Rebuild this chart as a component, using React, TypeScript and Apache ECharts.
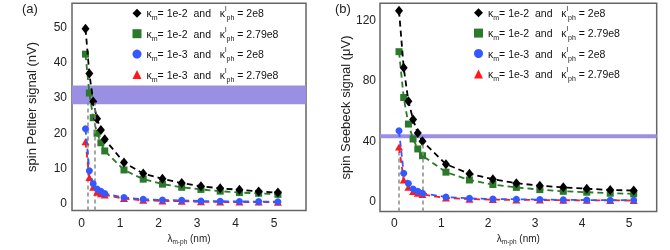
import React, { useEffect, useRef } from "react";
import * as echarts from "echarts";

const lambdaNm = [0.1, 0.2, 0.3, 0.4, 0.5, 0.6, 1.1, 1.6, 2.1, 2.6, 3.1, 3.6, 4.1, 4.6, 5.1];

// spin Peltier signal (nV)
const peltierKm2Ph2 = [49.4, 36.7, 28.8, 23.9, 20.7, 18.1, 11.5, 8.4, 6.9, 5.7, 4.8, 4.2, 3.8, 3.3, 3.0];
const peltierKm2Ph279 = [42.2, 31.2, 24.2, 19.8, 17.1, 14.8, 9.4, 6.8, 5.4, 4.5, 3.9, 3.4, 3.0, 2.8, 2.5];
const peltierKm3Ph2 = [21.1, 9.2, 5.5, 4.0, 3.4, 2.7, 1.6, 1.1, 0.9, 0.8, 0.6, 0.55, 0.5, 0.45, 0.4];
const peltierKm3Ph279 = [17.4, 7.3, 4.5, 3.1, 2.7, 2.3, 1.3, 0.8, 0.65, 0.55, 0.4, 0.35, 0.3, 0.3, 0.25];

// spin Seebeck signal (μV)
const seebeckKm2Ph2 = [126.2, 88.3, 66.2, 54, 45, 39.6, 24.4, 18, 14.4, 11.8, 10.1, 9, 8.1, 7.3, 6.9];
const seebeckKm2Ph279 = [99, 68.6, 51, 41.1, 34.5, 30, 19.1, 13.9, 10.9, 9, 7.5, 6.4, 5.8, 5.1, 4.7];
const seebeckKm3Ph2 = [46.5, 18.4, 11.6, 7.9, 6.4, 5.1, 2.6, 1.7, 1.3, 1.1, 0.9, 0.7, 0.6, 0.5, 0.45];
const seebeckKm3Ph279 = [35.8, 13.9, 9, 6.2, 5.1, 4.3, 1.9, 1.2, 0.9, 0.7, 0.6, 0.5, 0.4, 0.35, 0.3];

const xTicks = [0, 1, 2, 3, 4, 5];
const peltierTicks = [0, 10, 20, 30, 40, 50];
const seebeckTicks = [0, 40, 80, 120];

const peltierBand = [28, 33.3];
const seebeckBand = [41.6, 44.3];
const peltierGuides = [
  [0.16, 28.5],
  [0.34, 28.5],
];
const seebeckGuides = [
  [0.1, 34],
  [0.6, 39],
];

const seriesNames = ["k1", "k2", "k3", "k4"];
const kmLabels = ["1e-2", "1e-2", "1e-3", "1e-3"];
const kphLabels = ["2e8", "2.79e8", "2e8", "2.79e8"];
const colors = ["#000000", "#2a7a2a", "#3658ff", "#ff1a1a"];
const symbols = ["diamond", "rect", "circle", "triangle"];
const symbolSizes: any[] = [[8, 10], 7, 7, [8, 7]];

const FONT = "Liberation Sans, Arial, sans-serif";

export default function App() {
  const ref = useRef<HTMLDivElement>(null);
  useEffect(() => {
    if (!ref.current) return;
    const chart = echarts.init(ref.current, null, { renderer: "svg" });

    const rich = {
      t: { fontSize: 10.5, lineHeight: 16, fontFamily: FONT, color: "#111" },
      sub: { fontSize: 7, lineHeight: 8, verticalAlign: "bottom", fontFamily: FONT, color: "#111" },
      sup: { fontSize: 7, lineHeight: 8, verticalAlign: "top", fontFamily: FONT, color: "#111" },
    };
    const fmt = (name: string) => {
      const i = seriesNames.indexOf(name);
      return `{t|κ}{sub|m}{t|= ${kmLabels[i]}  and   κ}{sup|l}{sub|ph}{t| = ${kphLabels[i]}}`;
    };

    const legendFor = (left: number, top: number) => ({
      left,
      top,
      padding: 0,
      orient: "vertical",
      itemWidth: 9,
      itemHeight: 9,
      itemGap: 4.4,
      data: seriesNames.map((n, i) => ({ name: n, icon: symbols[i] })),
      formatter: fmt,
      textStyle: { rich },
      selectedMode: false,
    });

    const makeSeries = (gi: number, datasets: number[][], band: number[], guides: number[][], yMin: number) => {
      const order = [1, 0, 3, 2];
      return order.map((i, k) => {
        const s: any = {
          type: "line",
          name: seriesNames[i],
          xAxisIndex: gi,
          yAxisIndex: gi,
          data: lambdaNm.map((x, j) => [x, datasets[i][j]]),
          symbol: symbols[i],
          symbolSize: symbolSizes[i],
          showSymbol: true,
          itemStyle: { color: colors[i] },
          lineStyle: { color: colors[i], width: 1.8, type: [6, 4] },
          z: 3 + k,
        };
        if (k === 0) {
          s.markArea = {
            silent: true,
            itemStyle: { color: "#9b8fe4", opacity: 1 },
            data: [[{ yAxis: band[0] }, { yAxis: band[1] }]],
          };
          s.markLine = {
            silent: true,
            symbol: "none",
            label: { show: false },
            lineStyle: { color: "#8a8a8a", width: 1.5, type: [4, 3] },
            data: guides.map((g) => [{ coord: [g[0], yMin] }, { coord: [g[0], g[1]] }]),
          };
        }
        return s;
      });
    };

    const axisLabelStyle = { color: "#222", fontSize: 12, fontFamily: FONT };
    const xName = "{l|λ}{s|m-ph}{l| (nm)}";
    const xNameStyle = {
      rich: {
        l: { fontSize: 10, lineHeight: 13, fontFamily: FONT, color: "#222" },
        s: { fontSize: 6.5, lineHeight: 7, verticalAlign: "bottom", fontFamily: FONT, color: "#222" },
      },
    };

    const pYMin = -2.1;
    const sYMin = -7.07;

    chart.setOption({
      animation: false,
      textStyle: { fontFamily: FONT },
      grid: [
        { left: 72, top: 3.3, width: 234, height: 213.4, show: true, borderColor: "#666", borderWidth: 1.5, backgroundColor: "transparent" },
        { left: 380, top: 3.3, width: 276.7, height: 215, show: true, borderColor: "#666", borderWidth: 1.5, backgroundColor: "transparent" },
      ],
      xAxis: [
        {
          type: "value", gridIndex: 0, min: -0.251, max: 5.83,
          axisLine: { show: false }, axisTick: { show: false }, splitLine: { show: false },
          axisLabel: { ...axisLabelStyle, margin: 6, customValues: xTicks },
          name: xName, nameLocation: "middle", nameGap: 15, nameTextStyle: xNameStyle,
        },
        {
          type: "value", gridIndex: 1, min: -0.305, max: 5.59,
          axisLine: { show: false }, axisTick: { show: false }, splitLine: { show: false },
          axisLabel: { ...axisLabelStyle, margin: 5, customValues: xTicks },
          name: xName, nameLocation: "middle", nameGap: 13, nameTextStyle: xNameStyle,
        },
      ],
      yAxis: [
        {
          type: "value", gridIndex: 0, min: pYMin, max: 56.6,
          axisLine: { show: false }, axisTick: { show: false }, splitLine: { show: false },
          axisLabel: { ...axisLabelStyle, margin: 5, customValues: peltierTicks },
          name: "spin Peltier signal (nV)", nameLocation: "middle", nameGap: 34,
          nameTextStyle: { fontSize: 13, color: "#222", fontFamily: FONT },
        },
        {
          type: "value", gridIndex: 1, min: sYMin, max: 131.1,
          axisLine: { show: false }, axisTick: { show: false }, splitLine: { show: false },
          axisLabel: { ...axisLabelStyle, margin: 4, customValues: seebeckTicks },
          name: "spin Seebeck signal (μV)", nameLocation: "middle", nameGap: 23,
          nameTextStyle: { fontSize: 13, color: "#222", fontFamily: FONT },
        },
      ],
      legend: [legendFor(132.5, 5.3), legendFor(474, 4.7)],
      series: [
        ...makeSeries(0, [peltierKm2Ph2, peltierKm2Ph279, peltierKm3Ph2, peltierKm3Ph279], peltierBand, peltierGuides, pYMin),
        ...makeSeries(1, [seebeckKm2Ph2, seebeckKm2Ph279, seebeckKm3Ph2, seebeckKm3Ph279], seebeckBand, seebeckGuides, sYMin),
      ],
      graphic: [
        { type: "text", left: 22, top: 2, style: { text: "(a)", fontSize: 13, fontFamily: FONT, fill: "#222" } },
        { type: "text", left: 335, top: 2, style: { text: "(b)", fontSize: 13, fontFamily: FONT, fill: "#222" } },
      ],
    });
    return () => chart.dispose();
  }, []);
  return <div ref={ref} style={{ position: "fixed", left: 0, top: 0, width: 670, height: 250 }} />;
}
